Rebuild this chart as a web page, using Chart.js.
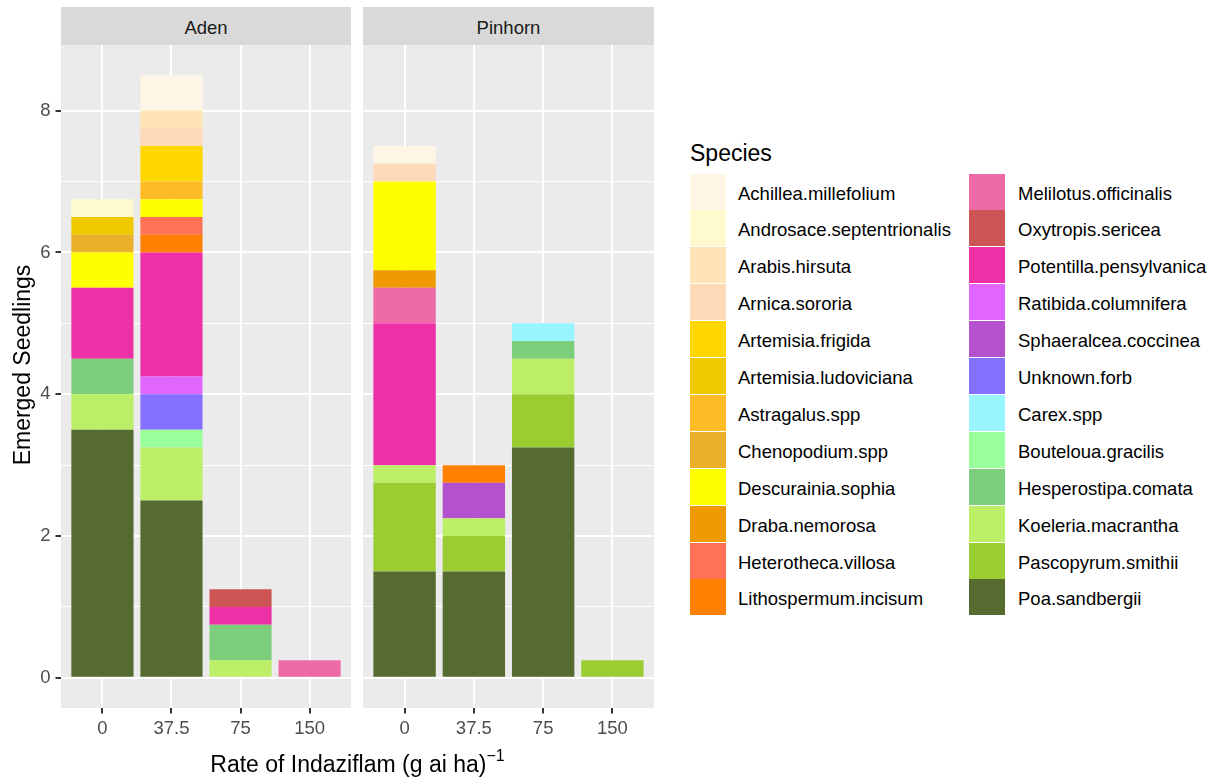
<!DOCTYPE html>
<html>
<head>
<meta charset="utf-8">
<script src="https://cdn.jsdelivr.net/npm/chart.js@4.4.1/dist/chart.umd.min.js"></script>
<style>
  html, body { margin: 0; padding: 0; background: #fff; }
  #wrap { position: relative; width: 1223px; height: 782px; overflow: hidden;
          font-family: "Liberation Sans", Arial, sans-serif; }
  canvas { position: absolute; top: 0; }
  .strip { position: absolute; top: 7px; height: 38px; line-height: 41px; background: #d9d9d9;
           color: #1a1a1a; font-size: 18.5px; text-align: center; }
  .ytitle { position: absolute; left: -88px; top: 352px; width: 220px; height: 26px; line-height: 26px;
            text-align: center; font-size: 23px; color: #000; transform: rotate(-90deg); }
  .xtitle { position: absolute; left: 61px; width: 593px; top: 745px; line-height: 26px;
            text-align: center; font-size: 23px; color: #000; }
  .xtitle sup { font-size: 16px; position: relative; top: -2px; }
  .ltitle { position: absolute; left: 690px; top: 140px; font-size: 23px; line-height: 26px; color: #000; }
  .key { position: absolute; width: 36px; height: 36px; }
  .ltext { position: absolute; font-size: 18.5px; line-height: 36.9px; color: #000; white-space: nowrap; }
</style>
</head>
<body>
<div id="wrap">
  <canvas id="aden" width="360" height="782" style="left:0px"></canvas>
  <canvas id="pinhorn" width="291" height="782" style="left:363px"></canvas>
  <div class="strip" style="left:61px; width:290px">Aden</div>
  <div class="strip" style="left:363px; width:291px">Pinhorn</div>
  <div class="ytitle">Emerged Seedlings</div>
  <div class="xtitle">Rate of Indaziflam (g ai ha)<sup>−1</sup></div>
  <div class="ltitle">Species</div>
  <div id="legend"></div>
</div>
<script>
var rates = ['0', '37.5', '75', '150'];

var species = [
  'Achillea.millefolium', 'Androsace.septentrionalis', 'Arabis.hirsuta', 'Arnica.sororia',
  'Artemisia.frigida', 'Artemisia.ludoviciana', 'Astragalus.spp', 'Chenopodium.spp',
  'Descurainia.sophia', 'Draba.nemorosa', 'Heterotheca.villosa', 'Lithospermum.incisum',
  'Melilotus.officinalis', 'Oxytropis.sericea', 'Potentilla.pensylvanica', 'Ratibida.columnifera',
  'Sphaeralcea.coccinea', 'Unknown.forb', 'Carex.spp', 'Bouteloua.gracilis',
  'Hesperostipa.comata', 'Koeleria.macrantha', 'Pascopyrum.smithii', 'Poa.sandbergii'
];

var speciesColors = [
  '#fdf5e6', '#fffacd', '#ffe4b5', '#ffdab9',
  '#ffd700', '#eec900', '#fdbc26', '#ebaf2a',
  '#ffff00', '#ee9a00', '#ff7256', '#ff7f00',
  '#ee6aa7', '#cd5555', '#ee30a7', '#e066ff',
  '#b452cd', '#8470ff', '#98f5ff', '#9aff9a',
  '#7ccd7c', '#bcee68', '#9acd32', '#556b2f'
];

// mean seedlings per species (rows, same order as species) and rate (columns)
var adenCounts = [
  [0, 0.5, 0, 0], [0.25, 0, 0, 0], [0, 0.25, 0, 0], [0, 0.25, 0, 0],
  [0, 0.5, 0, 0], [0.25, 0, 0, 0], [0, 0.25, 0, 0], [0.25, 0, 0, 0],
  [0.5, 0.25, 0, 0], [0, 0, 0, 0], [0, 0.25, 0, 0], [0, 0.25, 0, 0],
  [0, 0, 0, 0.25], [0, 0, 0.25, 0], [1, 1.75, 0.25, 0], [0, 0.25, 0, 0],
  [0, 0, 0, 0], [0, 0.5, 0, 0], [0, 0, 0, 0], [0, 0.25, 0, 0],
  [0.5, 0, 0.5, 0], [0.5, 0.75, 0.25, 0], [0, 0, 0, 0], [3.5, 2.5, 0, 0]
];

var pinhornCounts = [
  [0.25, 0, 0, 0], [0, 0, 0, 0], [0, 0, 0, 0], [0.25, 0, 0, 0],
  [0, 0, 0, 0], [0, 0, 0, 0], [0, 0, 0, 0], [0, 0, 0, 0],
  [1.25, 0, 0, 0], [0.25, 0, 0, 0], [0, 0, 0, 0], [0, 0.25, 0, 0],
  [0.5, 0, 0, 0], [0, 0, 0, 0], [2, 0, 0, 0], [0, 0, 0, 0],
  [0, 0.5, 0, 0], [0, 0, 0, 0], [0, 0, 0.25, 0], [0, 0, 0, 0],
  [0, 0, 0.25, 0], [0.25, 0.25, 0.5, 0], [1.25, 0.5, 0.75, 0.25], [1.5, 1.5, 3.25, 0]
];

var yTicks = [0, 1, 2, 3, 4, 5, 6, 7, 8];

var fontFamily = '"Liberation Sans", Arial, sans-serif';

var panelBg = {
    id: 'panelBg',
    beforeDraw: function(chart) {
        var a = chart.chartArea;
        var ctx = chart.ctx;
        ctx.save();
        ctx.fillStyle = '#ebebeb';
        ctx.fillRect(a.left, a.top, a.right - a.left, a.bottom - a.top);
        ctx.restore();
    }
};

var getDatasets = function(counts) {
    var datasets = [];
    // ggplot stacks the last factor level at the bottom
    for (var i = species.length - 1; i >= 0; i--) {
        datasets.push({
            label: species[i],
            data: counts[i].map(function(v, j) {
                return { x: j, y: v > 0 ? v : null };
            }),
            backgroundColor: speciesColors[i],
            borderWidth: 0,
            barPercentage: 0.9,
            categoryPercentage: 1.0
        });
    }
    return datasets;
};

var getConfig = function(counts, showY) {
    return {
        type: 'bar',
        data: { datasets: getDatasets(counts) },
        plugins: [panelBg],
        options: {
            responsive: false,
            animation: false,
            events: [],
            layout: { padding: { top: 45, right: showY ? 9 : 0, left: 0, bottom: 0 } },
            plugins: { legend: { display: false }, tooltip: { enabled: false } },
            scales: {
                x: {
                    type: 'linear',
                    stacked: true,
                    offset: false,
                    bounds: 'data',
                    min: -0.6,
                    max: 3.6,
                    afterBuildTicks: function(scale) {
                        scale.ticks = rates.map(function(r, i) { return { value: i }; });
                    },
                    afterFit: function(scale) { scale.height = 74; },
                    ticks: {
                        autoSkip: false,
                        maxRotation: 0,
                        padding: 4,
                        color: '#4d4d4d',
                        font: { family: fontFamily, size: 18.5 },
                        callback: function(v) { return rates[v]; }
                    },
                    grid: {
                        offset: false,
                        color: '#ffffff',
                        lineWidth: 2,
                        tickLength: 5.5,
                        tickColor: '#333333',
                        tickWidth: 2
                    },
                    border: { display: false }
                },
                y: {
                    type: 'linear',
                    stacked: true,
                    bounds: 'data',
                    min: -0.425,
                    max: 8.925,
                    afterBuildTicks: function(scale) {
                        scale.ticks = yTicks.map(function(v) { return { value: v }; });
                    },
                    afterFit: function(scale) { scale.width = showY ? 61 : 0; },
                    ticks: {
                        display: showY,
                        padding: 5,
                        color: '#4d4d4d',
                        font: { family: fontFamily, size: 18.5 },
                        callback: function(v) { return v % 2 === 0 ? String(v) : ''; }
                    },
                    grid: {
                        color: '#ffffff',
                        lineWidth: function(c) { return c.tick && c.tick.value % 2 === 0 ? 2 : 1; },
                        drawTicks: showY,
                        tickLength: 5.5,
                        tickWidth: 2,
                        tickColor: function(c) {
                            return c.tick && c.tick.value % 2 === 0 ? '#333333' : 'rgba(0,0,0,0)';
                        }
                    },
                    border: { display: false }
                }
            }
        }
    };
};

new Chart(document.getElementById('aden'), getConfig(adenCounts, true));
new Chart(document.getElementById('pinhorn'), getConfig(pinhornCounts, false));

// legend, two columns of twelve
var legend = document.getElementById('legend');
species.forEach(function(name, i) {
    var col = Math.floor(i / 12);
    var row = i % 12;
    var top = 173 + row * 36.9;
    var key = document.createElement('div');
    key.className = 'key';
    key.style.left = (col ? 969 : 689.5) + 'px';
    key.style.top = (top + 0.5) + 'px';
    key.style.background = speciesColors[i];
    legend.appendChild(key);
    var txt = document.createElement('div');
    txt.className = 'ltext';
    txt.style.left = (col ? 1018 : 738) + 'px';
    txt.style.top = (top + 2.5) + 'px';
    txt.textContent = name;
    legend.appendChild(txt);
});
</script>
</body>
</html>
